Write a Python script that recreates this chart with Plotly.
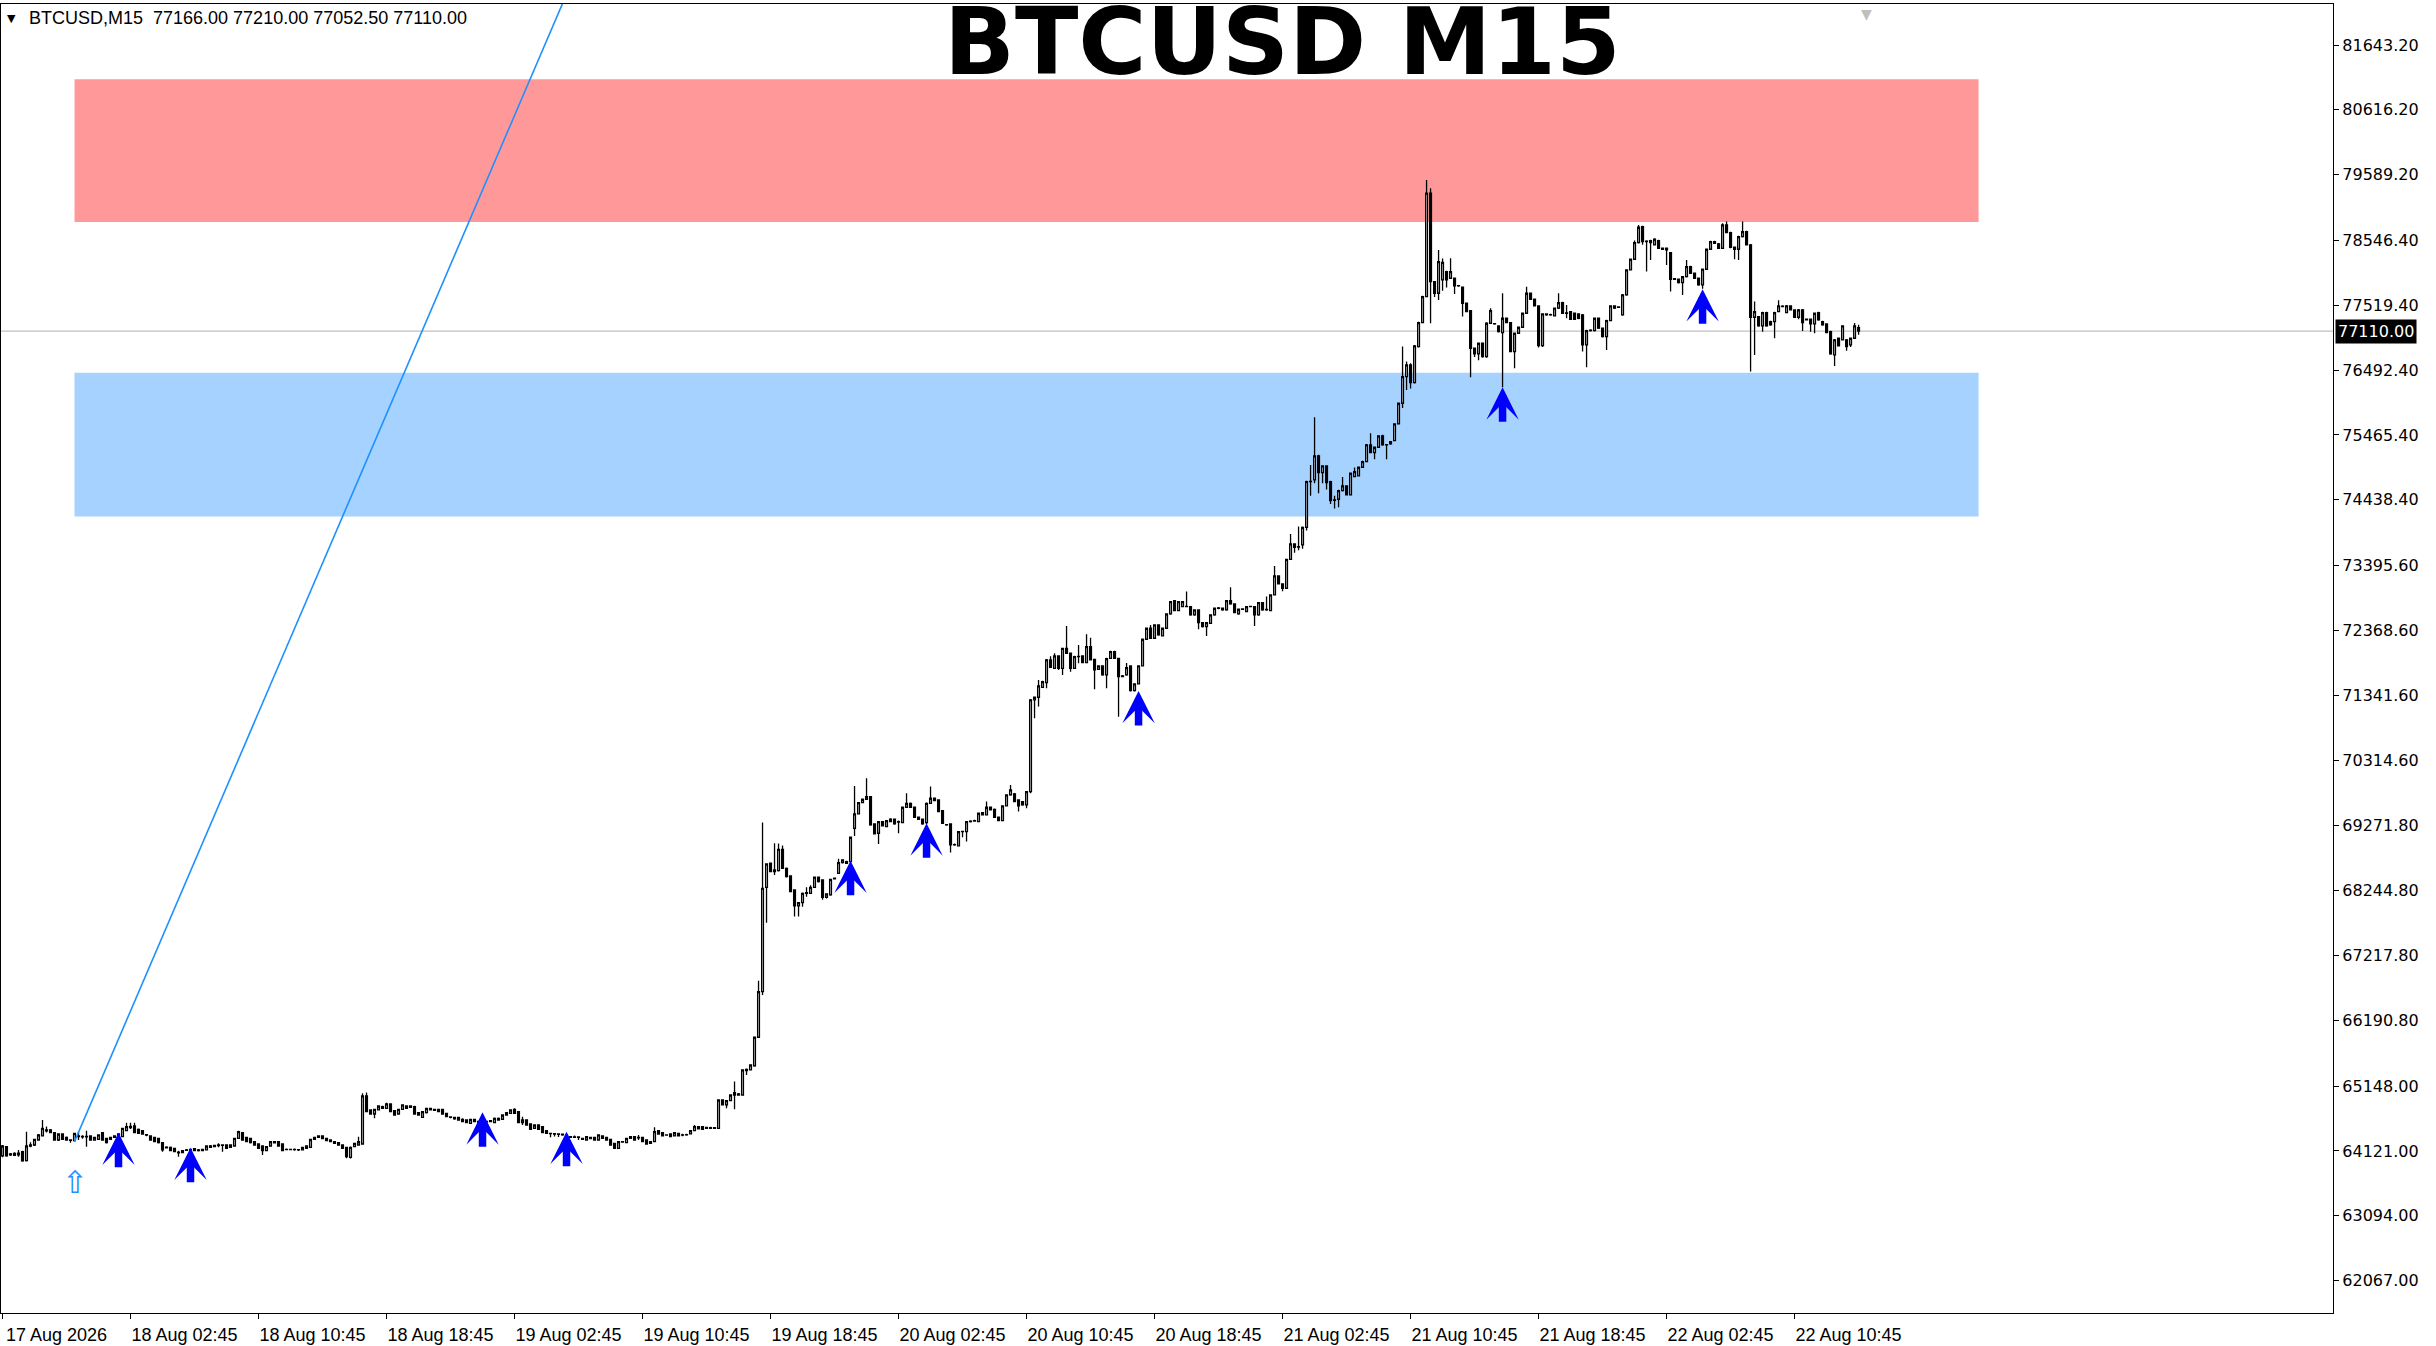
import pandas as pd
import plotly.graph_objects as go

SYMBOL = "BTCUSD"
PERIOD = "M15"
FIRST_BAR = "2026-08-17 18:45"

# OHLC of every M15 bar (oldest first)
bar_open = [
    64041, 64189, 64057, 64083, 64060, 64109, 63967, 64199, 64215, 64294,
    64358, 64440, 64453, 64411, 64294, 64389, 64337, 64294, 64284, 64347,
    64350, 64345, 64358, 64294, 64305, 64411, 64321, 64305, 64337, 64337,
    64347, 64442, 64490, 64516, 64463, 64442, 64380, 64358, 64337, 64321,
    64252, 64170, 64178, 64162, 64100, 64094, 64130, 64109, 64157, 64125,
    64125, 64136, 64199, 64189, 64205, 64215, 64215, 64178, 64199, 64321,
    64411, 64337, 64321, 64268, 64231, 64199, 64125, 64199, 64268, 64268,
    64231, 64140, 64146, 64140, 64140, 64136, 64162, 64178, 64305, 64337,
    64358, 64321, 64294, 64268, 64252, 64215, 64178, 64020, 64189, 64215,
    64231, 64992, 64770, 64706, 64770, 64823, 64796, 64865, 64759, 64706,
    64780, 64833, 64812, 64823, 64727, 64653, 64727, 64796, 64765, 64743,
    64780, 64717, 64660, 64653, 64611, 64622, 64611, 64558, 64622, 64590,
    64575, 64590, 64585, 64569, 64638, 64622, 64690, 64717, 64780, 64743,
    64569, 64611, 64548, 64479, 64532, 64506, 64442, 64400, 64395, 64389,
    64385, 64374, 64347, 64337, 64342, 64320, 64294, 64337, 64337, 64294,
    64358, 64337, 64305, 64242, 64162, 64268, 64252, 64321, 64347, 64330,
    64337, 64294, 64242, 64268, 64442, 64411, 64370, 64389, 64358, 64400,
    64370, 64374, 64390, 64442, 64470, 64506, 64495, 64480, 64490, 64479,
    64928, 64849, 64918, 65045, 65007, 65007, 65393, 65404, 65467, 65922,
    66645, 68298, 68679, 68547, 68562, 68900, 68599, 68478, 68256, 68003,
    68055, 68203, 68203, 68298, 68457, 68415, 68140, 68177, 68441, 68520,
    68689, 68705, 68705, 69233, 69460, 69640, 69693, 69735, 69302, 69154,
    69339, 69260, 69339, 69376, 69330, 69323, 69566, 69629, 69566, 69408,
    69376, 69323, 69629, 69709, 69682, 69513, 69290, 69302, 68969, 68953,
    69180, 69180, 69339, 69345, 69339, 69480, 69445, 69566, 69534, 69408,
    69355, 69587, 69761, 69777, 69682, 69656, 69603, 69814, 71266, 71309,
    71467, 71541, 71900, 71768, 71964, 71768, 72085, 72006, 71768, 71953,
    71964, 71858, 72112, 71910, 71752, 71805, 71663, 71926, 72032, 71926,
    71636, 71663, 71805, 71414, 71520, 71805, 72228, 72402, 72244, 72455,
    72281, 72402, 72629, 72840, 72682, 72745, 72745, 72745, 72613, 72692,
    72492, 72428, 72481, 72613, 72719, 72692, 72692, 72840, 72787, 72629,
    72703, 72666, 72745, 72745, 72613, 72809, 72692, 72682, 72930, 73231,
    73104, 73036, 73495, 73738, 73690, 73722, 74002, 74726, 74752, 75133,
    74869, 74974, 74726, 74430, 74446, 74583, 74657, 74515, 74805, 74816,
    74953, 75043, 75307, 75186, 75270, 75450, 75307, 75323, 75376, 75640,
    75967, 76390, 76575, 76295, 76865, 77245, 77657, 79295, 77895, 77710,
    77921, 78054, 77948, 77948, 77826, 77805, 77552, 77436, 76839, 76749,
    76918, 76707, 77235, 77224, 77193, 77087, 77314, 77245, 76786, 77076,
    77171, 77393, 77710, 77615, 77510, 76880, 77367, 77367, 77351, 77473,
    77562, 77393, 77420, 77393, 77383, 77367, 76892, 77119, 77119, 77314,
    77156, 77024, 77277, 77510, 77488, 77367, 77684, 78080, 78249, 78513,
    78767, 78529, 78545, 78476, 78545, 78423, 78423, 78355, 77932, 77932,
    77879, 77974, 78132, 78027, 77948, 77842, 78090, 78407, 78529, 78492,
    78423, 78793, 78672, 78439, 78407, 78608, 78687, 78476, 77330, 77340,
    77193, 77404, 77261, 77261, 77420, 77500, 77404, 77510, 77446, 77330,
    77446, 77298, 77298, 77224, 77404, 77261, 77224, 77103, 76733, 76997,
    76971, 76971, 76892, 76997, 77166,
]
bar_high = [
    64215, 64199, 64090, 64100, 64136, 64125, 64426, 64260, 64315, 64390,
    64611, 64506, 64470, 64420, 64400, 64400, 64350, 64300, 64410, 64426,
    64370, 64442, 64370, 64345, 64385, 64420, 64330, 64345, 64365, 64400,
    64490, 64569, 64569, 64569, 64475, 64450, 64390, 64365, 64345, 64330,
    64260, 64195, 64190, 64170, 64125, 64135, 64150, 64155, 64165, 64150,
    64155, 64210, 64215, 64220, 64242, 64220, 64225, 64225, 64330, 64442,
    64420, 64345, 64330, 64275, 64240, 64210, 64195, 64275, 64280, 64275,
    64240, 64160, 64155, 64160, 64150, 64185, 64205, 64315, 64345, 64370,
    64370, 64330, 64300, 64275, 64260, 64225, 64185, 64190, 64250, 64347,
    65034, 65045, 64780, 64790, 64845, 64835, 64886, 64875, 64770, 64790,
    64860, 64845, 64845, 64835, 64735, 64750, 64805, 64805, 64790, 64790,
    64790, 64725, 64670, 64660, 64660, 64640, 64620, 64630, 64630, 64600,
    64605, 64600, 64610, 64650, 64650, 64700, 64735, 64780, 64796, 64750,
    64664, 64620, 64555, 64540, 64540, 64515, 64450, 64405, 64400, 64395,
    64395, 64380, 64355, 64365, 64350, 64330, 64355, 64345, 64345, 64385,
    64370, 64345, 64315, 64250, 64275, 64280, 64330, 64355, 64355, 64374,
    64345, 64300, 64275, 64495, 64450, 64420, 64385, 64395, 64420, 64410,
    64395, 64395, 64450, 64532, 64515, 64515, 64505, 64505, 64500, 64935,
    64940, 64925, 65015, 65219, 65040, 65415, 65425, 65495, 65935, 66819,
    69323, 68680, 68690, 68996, 68990, 68960, 68610, 68490, 68265, 68065,
    68215, 68300, 68330, 68470, 68470, 68425, 68205, 68435, 68455, 68750,
    68742, 68720, 69100, 69904, 69650, 69705, 70026, 69745, 69310, 69350,
    69350, 69365, 69390, 69385, 69355, 69575, 69788, 69640, 69575, 69420,
    69385, 69640, 69893, 69720, 69690, 69520, 69300, 69310, 68990, 69190,
    69195, 69350, 69360, 69370, 69480, 69490, 69656, 69575, 69545, 69415,
    69595, 69770, 69920, 69790, 69690, 69665, 69825, 71280, 71320, 71583,
    71570, 71915, 71960, 72006, 71975, 72095, 72439, 72015, 71965, 72138,
    71975, 72307, 72250, 71920, 71815, 71815, 71935, 72045, 72045, 71935,
    71660, 71850, 71815, 71530, 71815, 72240, 72415, 72455, 72465, 72465,
    72415, 72640, 72835, 72850, 72835, 72835, 72983, 72755, 72705, 72700,
    72500, 72500, 72625, 72730, 72740, 72730, 72850, 73052, 72795, 72715,
    72720, 72755, 72760, 72755, 72820, 72820, 72904, 72940, 73390, 73240,
    73115, 73505, 73897, 73750, 74013, 74015, 74740, 74990, 75745, 75150,
    74985, 74985, 74740, 74500, 74595, 74800, 74665, 74870, 74950, 74965,
    75055, 75320, 75492, 75280, 75460, 75470, 75320, 75370, 75650, 75980,
    76865, 76627, 76600, 76890, 77260, 77670, 79506, 79374, 77905, 78397,
    78260, 78065, 78265, 77960, 77840, 77815, 77560, 77445, 76850, 76930,
    76930, 77250, 77473, 77240, 77205, 77710, 77325, 77255, 77090, 77185,
    77405, 77815, 77720, 77625, 77520, 77395, 77395, 77385, 77485, 77710,
    77575, 77525, 77430, 77405, 77395, 77380, 77130, 77140, 77325, 77325,
    77165, 77290, 77520, 77520, 77505, 77700, 78090, 78260, 78545, 78793,
    78780, 78550, 78556, 78580, 78556, 78435, 78435, 78365, 77950, 77945,
    77985, 78238, 78145, 78040, 77960, 78100, 78420, 78540, 78540, 78505,
    78820, 78846, 78685, 78450, 78620, 78846, 78700, 78490, 77578, 77350,
    77415, 77415, 77275, 77415, 77600, 77520, 77525, 77520, 77455, 77460,
    77460, 77310, 77310, 77405, 77415, 77275, 77235, 77115, 76985, 77010,
    77205, 76985, 77010, 77240, 77210,
]
bar_low = [
    64020, 64030, 64040, 64040, 64030, 63950, 63955, 64180, 64200, 64285,
    64350, 64411, 64400, 64285, 64280, 64295, 64285, 64252, 64270, 64294,
    64315, 64189, 64285, 64285, 64295, 64285, 64240, 64295, 64330, 64330,
    64340, 64435, 64470, 64400, 64390, 64380, 64355, 64285, 64260, 64240,
    64109, 64160, 64115, 64100, 64030, 64085, 64120, 64100, 64115, 64110,
    64115, 64130, 64170, 64180, 64178, 64109, 64155, 64170, 64190, 64310,
    64285, 64260, 64240, 64205, 64155, 64057, 64115, 64190, 64240, 64190,
    64115, 64130, 64130, 64125, 64120, 64130, 64155, 64170, 64295, 64330,
    64305, 64275, 64260, 64235, 64205, 64155, 64004, 64000, 64180, 64205,
    64220, 64735, 64695, 64638, 64760, 64785, 64785, 64735, 64680, 64695,
    64770, 64785, 64800, 64695, 64680, 64645, 64715, 64760, 64755, 64735,
    64695, 64655, 64640, 64615, 64600, 64575, 64560, 64550, 64575, 64560,
    64565, 64570, 64575, 64560, 64600, 64615, 64680, 64710, 64710, 64560,
    64532, 64525, 64455, 64470, 64455, 64400, 64390, 64337, 64350, 64340,
    64360, 64335, 64325, 64325, 64294, 64295, 64285, 64305, 64285, 64285,
    64310, 64285, 64205, 64150, 64155, 64250, 64245, 64315, 64285, 64294,
    64260, 64220, 64235, 64260, 64380, 64350, 64360, 64340, 64350, 64350,
    64355, 64360, 64380, 64435, 64460, 64455, 64470, 64470, 64470, 64470,
    64840, 64796, 64910, 64780, 64995, 65000, 65325, 65395, 65455, 65915,
    66592, 67738, 68535, 68494, 68550, 68590, 68455, 68220, 67834, 67834,
    67990, 68150, 68190, 68285, 68375, 68100, 68120, 68165, 68420, 68510,
    68675, 68670, 68695, 69112, 69450, 69630, 69685, 69275, 69135, 68985,
    69260, 69250, 69330, 69290, 69154, 69315, 69555, 69555, 69400, 69365,
    69290, 69300, 69620, 69660, 69485, 69300, 69275, 68848, 68955, 68945,
    69091, 69022, 69325, 69335, 69330, 69435, 69435, 69515, 69400, 69345,
    69345, 69580, 69750, 69645, 69497, 69590, 69550, 69788, 70976, 71161,
    71455, 71451, 71775, 71755, 71740, 71660, 71995, 71715, 71755, 71847,
    71850, 71850, 71890, 71435, 71740, 71650, 71451, 71915, 71915, 71002,
    71625, 71650, 71400, 71400, 71510, 71795, 72215, 72235, 72235, 72285,
    72270, 72390, 72615, 72670, 72670, 72735, 72735, 72600, 72600, 72386,
    72415, 72280, 72470, 72600, 72705, 72680, 72680, 72775, 72640, 72615,
    72690, 72655, 72735, 72439, 72600, 72680, 72680, 72670, 72920, 73095,
    72990, 73025, 73485, 73600, 73640, 73660, 73950, 74500, 74700, 74540,
    74700, 74600, 74372, 74300, 74320, 74570, 74505, 74505, 74795, 74805,
    74940, 75035, 75175, 75080, 75260, 75295, 75080, 75310, 75365, 75630,
    75890, 76178, 76200, 76280, 76850, 77235, 77645, 77235, 77650, 77605,
    77750, 77800, 77935, 77700, 77815, 77340, 77410, 76379, 76700, 76650,
    76690, 76690, 77225, 77210, 77090, 76220, 77235, 76775, 76522, 77065,
    77160, 77380, 77605, 77500, 76850, 76860, 77355, 77355, 77340, 77460,
    77380, 77314, 77285, 77285, 77300, 76786, 76538, 77105, 77105, 77145,
    77010, 76812, 77265, 77460, 77475, 77355, 77670, 78070, 78240, 78500,
    78480, 78054, 78238, 78465, 78410, 78395, 78159, 77737, 77920, 77865,
    77684, 77960, 78015, 77935, 77830, 77780, 78080, 78395, 78490, 78410,
    78410, 78660, 78425, 78250, 78238, 78595, 78465, 76469, 76733, 77180,
    77100, 77180, 77195, 76997, 77410, 77490, 77395, 77435, 77320, 77300,
    77110, 77280, 77100, 77076, 77275, 77195, 77075, 76735, 76559, 76865,
    76960, 76800, 76860, 76985, 77052.5,
]
bar_close = [
    64199, 64041, 64073, 64052, 64085, 63962, 64199, 64215, 64305, 64374,
    64479, 64453, 64411, 64294, 64389, 64305, 64294, 64290, 64400, 64358,
    64345, 64350, 64294, 64337, 64374, 64294, 64252, 64337, 64358, 64389,
    64479, 64506, 64510, 64411, 64400, 64389, 64370, 64294, 64268, 64252,
    64136, 64180, 64125, 64109, 64090, 64125, 64136, 64146, 64125, 64136,
    64146, 64199, 64178, 64210, 64215, 64210, 64162, 64215, 64321, 64426,
    64294, 64268, 64252, 64215, 64162, 64125, 64189, 64268, 64250, 64199,
    64125, 64146, 64140, 64146, 64136, 64178, 64199, 64305, 64337, 64358,
    64315, 64284, 64268, 64242, 64215, 64162, 64030, 64178, 64242, 64268,
    64992, 64743, 64706, 64780, 64833, 64796, 64865, 64743, 64690, 64780,
    64849, 64796, 64833, 64706, 64690, 64743, 64796, 64770, 64780, 64780,
    64706, 64664, 64653, 64630, 64653, 64585, 64569, 64622, 64585, 64575,
    64590, 64580, 64601, 64638, 64611, 64690, 64727, 64770, 64717, 64569,
    64611, 64532, 64463, 64532, 64463, 64411, 64400, 64395, 64389, 64385,
    64374, 64347, 64337, 64342, 64337, 64305, 64347, 64315, 64294, 64374,
    64321, 64294, 64215, 64162, 64268, 64262, 64321, 64347, 64294, 64337,
    64268, 64231, 64268, 64426, 64389, 64358, 64374, 64347, 64411, 64358,
    64374, 64379, 64442, 64506, 64506, 64463, 64480, 64490, 64479, 64928,
    64849, 64918, 65007, 65007, 65025, 65404, 65414, 65483, 65922, 66645,
    68282, 68668, 68547, 68573, 68900, 68599, 68467, 68230, 68003, 68055,
    68203, 68214, 68298, 68457, 68388, 68140, 68193, 68425, 68430, 68689,
    68731, 68679, 69091, 69460, 69640, 69693, 69735, 69286, 69144, 69339,
    69270, 69355, 69376, 69302, 69339, 69566, 69629, 69566, 69408, 69376,
    69302, 69629, 69709, 69672, 69497, 69313, 69286, 68969, 68975, 69180,
    69185, 69339, 69345, 69355, 69471, 69445, 69566, 69524, 69408, 69355,
    69587, 69761, 69841, 69656, 69587, 69603, 69814, 71266, 71309, 71488,
    71557, 71900, 71784, 71964, 71768, 72085, 72006, 71768, 71953, 71958,
    71858, 72112, 71900, 71742, 71805, 71663, 71921, 72032, 71926, 71636,
    71647, 71779, 71414, 71520, 71805, 72228, 72402, 72244, 72455, 72296,
    72402, 72629, 72825, 72682, 72824, 72824, 72750, 72613, 72692, 72492,
    72428, 72492, 72613, 72719, 72725, 72719, 72840, 72787, 72650, 72703,
    72710, 72745, 72750, 72613, 72809, 72692, 72700, 72930, 73231, 73104,
    73036, 73495, 73738, 73685, 73696, 74002, 74726, 74730, 75133, 74869,
    74974, 74710, 74425, 74436, 74583, 74657, 74515, 74858, 74884, 74953,
    75043, 75307, 75186, 75270, 75450, 75307, 75310, 75360, 75640, 75967,
    76390, 76575, 76295, 76876, 77245, 77657, 79295, 77895, 77710, 78212,
    78200, 77921, 78054, 77826, 77830, 77552, 77420, 76839, 76749, 76918,
    76707, 77235, 77436, 77230, 77103, 77314, 77245, 76786, 77076, 77171,
    77393, 77710, 77615, 77510, 76880, 77383, 77383, 77372, 77473, 77562,
    77393, 77398, 77298, 77298, 77314, 76892, 77119, 77125, 77314, 77156,
    77024, 77277, 77510, 77473, 77493, 77684, 78080, 78249, 78513, 78756,
    78529, 78535, 78513, 78566, 78423, 78407, 78397, 77932, 77940, 77879,
    77974, 78132, 78027, 77948, 77842, 78090, 78407, 78529, 78502, 78423,
    78793, 78672, 78439, 78407, 78608, 78687, 78476, 77330, 77420, 77193,
    77404, 77193, 77209, 77404, 77510, 77505, 77510, 77446, 77330, 77446,
    77245, 77290, 77224, 77393, 77287, 77209, 77087, 76749, 76971, 76876,
    77193, 76865, 76997, 77193, 77110,
]

price_ticks = [
    81643.20, 80616.20, 79589.20, 78546.40, 77519.40, 76492.40, 75465.40,
    74438.40, 73395.60, 72368.60, 71341.60, 70314.60, 69271.80, 68244.80,
    67217.80, 66190.80, 65148.00, 64121.00, 63094.00, 62067.00,
]

# buy signals: bar number and the price at the arrow tip
signal_bars = [29, 47, 120, 141, 212, 231, 284, 375, 425]
signal_prices = [64410, 64172, 64733, 64426, 68720, 69312, 71409, 76221, 77774]

start_mark_time = "2026-08-17 23:15"
start_mark_price = 63940

supply_zone = [78837, 81101]
demand_zone = [74171, 76452]
zone_start = "2026-08-17 23:15"
zone_end = "2026-08-22 22:15"

trend_times = ["2026-08-17 23:15", "2026-08-19 08:15"]
trend_prices = [64268, 83778]

shift_mark_time = "2026-08-22 15:15"

assert len(bar_open) == len(bar_high) == len(bar_low) == len(bar_close), (
    len(bar_open), len(bar_high), len(bar_low), len(bar_close))

times = pd.date_range(FIRST_BAR, periods=len(bar_close), freq="15min")
tick_times = times[::32]
tick_text = [f"{t.day} {t:%b} {t:%H:%M}" for t in tick_times]
tick_text[0] = f"{tick_times[0].day} {tick_times[0]:%b %Y}"

fig = go.Figure()
fig.add_trace(
    go.Candlestick(
        x=times,
        open=bar_open,
        high=bar_high,
        low=bar_low,
        close=bar_close,
        increasing=dict(line=dict(color="black", width=1.3), fillcolor="white"),
        decreasing=dict(line=dict(color="black", width=1.3), fillcolor="black"),
        whiskerwidth=0,
        showlegend=False,
    )
)
fig.add_trace(
    go.Scatter(
        x=trend_times,
        y=trend_prices,
        mode="lines",
        line=dict(color="#1E90FF", width=1.6),
        showlegend=False,
        hoverinfo="skip",
    )
)

# zones
for (lo, hi), colour in [(supply_zone, "#FF9999"), (demand_zone, "#A6D2FF")]:
    fig.add_shape(
        type="rect", x0=zone_start, x1=zone_end, y0=lo, y1=hi,
        fillcolor=colour, line=dict(width=0), layer="below",
    )
# bid line
fig.add_shape(
    type="line", xref="paper", x0=0, x1=1, y0=bar_close[-1], y1=bar_close[-1],
    line=dict(color="#C0C0C0", width=1.2), layer="below",
)

for bar, price in zip(signal_bars, signal_prices):
    fig.add_annotation(
        x=times[bar], y=price, text="", showarrow=True, ax=0, ay=36,
        arrowhead=3, arrowsize=0.72, arrowwidth=7.5, arrowcolor="#0000FF",
    )

fig.add_annotation(
    x=start_mark_time, y=start_mark_price, text="⇧", showarrow=False,
    yanchor="top", font=dict(family="DejaVu Sans", size=31, color="#1E90FF"),
)

header = "\u00a0\u00a0".join([
    f"{SYMBOL},{PERIOD}",
    " ".join(f"{v:.2f}" for v in (bar_open[-1], bar_high[-1], bar_low[-1], bar_close[-1])),
])
fig.add_annotation(
    xref="paper", yref="paper", x=0, y=1, xanchor="left", yanchor="middle",
    xshift=26, yshift=-14, text=header, showarrow=False,
    font=dict(family="Liberation Sans", size=18, color="black"),
)
fig.add_annotation(
    xref="paper", yref="paper", x=0, y=1, xanchor="left", yanchor="middle",
    xshift=4, yshift=-14, text="▼", showarrow=False,
    font=dict(family="DejaVu Sans", size=11, color="black"),
)
fig.add_annotation(
    xref="paper", yref="paper", x=0.5497, y=1, xanchor="center", yanchor="middle",
    yshift=-38, text=f"<b>{SYMBOL} {PERIOD}</b>", showarrow=False,
    font=dict(family="DejaVu Sans", size=93, color="black"),
)
fig.add_annotation(
    x=shift_mark_time, yref="paper", y=1, yanchor="top", text="▼", showarrow=False,
    font=dict(family="DejaVu Sans", size=14, color="#C0C0C0"),
)
fig.add_annotation(
    xref="paper", x=1, y=bar_close[-1], xanchor="left", xshift=2,
    text=f"{bar_close[-1]:.2f}", showarrow=False, bgcolor="black", borderpad=2,
    font=dict(family="DejaVu Sans", size=16, color="white"),
)

x_start = times[0] - pd.Timedelta(minutes=5.625)
x_end = times[0] + pd.Timedelta(minutes=15 * 582.6)

params_axes = dict(
    showgrid=False,
    zeroline=False,
    showline=True,
    linecolor="black",
    linewidth=1.2,
    mirror=True,
    ticks="outside",
    tickcolor="black",
    ticklen=5,
)
fig.update_xaxes(
    **params_axes,
    type="date",
    range=[x_start, x_end],
    rangeslider_visible=False,
    tickvals=tick_times,
    ticktext=tick_text,
    ticklabelshift=54,
    tickfont=dict(family="Liberation Sans", size=18, color="black"),
)
fig.update_yaxes(
    **params_axes,
    side="right",
    range=[61553, 82293],
    tickvals=price_ticks,
    ticktext=[f"{v:.2f}" for v in price_ticks],
    tickfont=dict(family="DejaVu Sans", size=16, color="black"),
)
fig.update_layout(
    width=2436,
    height=1346,
    margin=dict(l=1, r=103, t=4, b=33),
    plot_bgcolor="white",
    paper_bgcolor="white",
    boxgap=0.35,
    showlegend=False,
    hovermode=False,
)

fig.write_html(
    "out.html",
    config={"displayModeBar": False},
    post_script="document.body.style.margin='0';",
)
